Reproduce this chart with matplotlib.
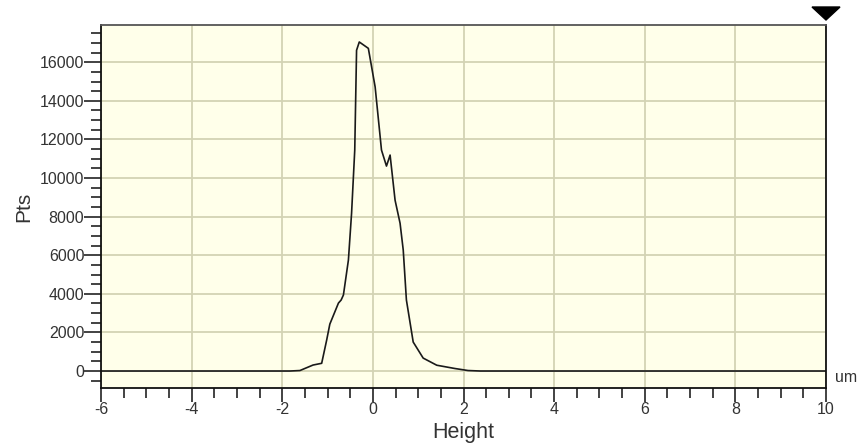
import matplotlib.pyplot as plt
from matplotlib.patches import Polygon
from matplotlib.ticker import MultipleLocator

plt.rcParams['font.family'] = ['Liberation Sans', 'DejaVu Sans']
plt.rcParams['axes.unicode_minus'] = False

# height histogram (um vs point count)
height = [-6.0, -1.83, -1.61, -1.32, -1.13, -1.02, -0.95, -0.76, -0.70, -0.65,
          -0.54, -0.47, -0.40, -0.36, -0.30, -0.10, 0.05, 0.19, 0.30, 0.38,
          0.49, 0.60, 0.67, 0.74, 0.89, 1.11, 1.41, 1.81, 2.10, 2.37, 10.0]
pts = [0, 0, 25, 310, 400, 1600, 2430, 3520, 3680, 3940,
       5750, 8180, 11450, 16620, 17050, 16720, 14720, 11450, 10620, 11190,
       8850, 7660, 6270, 3680, 1500, 670, 300, 130, 25, 0, 0]

fig = plt.figure(figsize=(8.64, 4.44), dpi=100)
ax = fig.add_axes([101/864, 1 - 388/444, 725/864, 363/444])
ax.set_facecolor('#ffffea')

ax.plot(height, pts, color='#1a1a1a', lw=1.2)

ax.set_xlim(-6, 10)
ax.set_ylim(-880, 17930)
ax.xaxis.set_major_locator(MultipleLocator(2))
ax.xaxis.set_minor_locator(MultipleLocator(0.5))
ax.yaxis.set_major_locator(MultipleLocator(2000))
ax.yaxis.set_minor_locator(MultipleLocator(500))
ax.grid(True, which='major', color='#d3d3b4', lw=1.3)
ax.set_axisbelow(True)

ax.tick_params(axis='both', which='major', direction='out', length=10, width=1.2,
               labelsize=11.5, labelcolor='#333333', color='#222222')
ax.tick_params(axis='both', which='minor', direction='out', length=7, width=1.2,
               color='#222222')
ax.tick_params(axis='y', which='major', length=12, pad=0)
ax.tick_params(axis='x', which='major', pad=0)

for side in ['left', 'right', 'bottom']:
    ax.spines[side].set_color('#111111')
    ax.spines[side].set_linewidth(1.3)
ax.spines['top'].set_color('#555555')
ax.spines['top'].set_linewidth(1.3)

ax.set_xlabel('Height', fontsize=15.5, color='#333333', labelpad=4)
ax.set_ylabel('Pts', fontsize=15, color='#333333', labelpad=5)
ax.text(1.027, 0.028, 'um', transform=ax.transAxes, fontsize=11.5,
        color='#333333', ha='center', va='center')

# cursor marker above the top-right corner
tri = Polygon([[812/864, 1 - 7/444], [840/864, 1 - 7/444], [826/864, 1 - 20/444]],
              closed=True, color='black', transform=fig.transFigure)
fig.add_artist(tri)

fig.savefig('out.png', dpi=100)
